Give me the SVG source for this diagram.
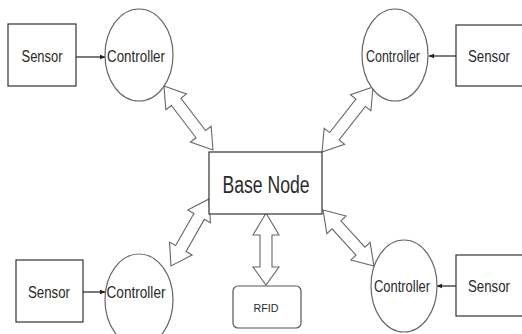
<svg xmlns="http://www.w3.org/2000/svg" width="522" height="334" viewBox="0 0 522 334">
  <style>
    .box { fill: #fff; stroke: #333; stroke-width: 1.2; }
    .oval { fill: #fff; stroke: #666; stroke-width: 1.2; }
    .lbl { font-family: "Liberation Sans", Arial, sans-serif; fill: #2a2a2a; text-anchor: middle; }
    .link { stroke: #222; stroke-width: 1.2; fill: none; }
    .dbl { fill: #fff; stroke: #666; stroke-width: 1.1; stroke-linejoin: miter; }
  </style>
  <defs>
    <marker id="tip" viewBox="0 0 10 10" refX="9" refY="5" markerWidth="6" markerHeight="6" markerUnits="userSpaceOnUse" orient="auto">
      <path d="M0,1 L10,5 L0,9 Z" fill="#222"/>
    </marker>
  </defs>
  <rect width="522" height="334" fill="#fff"/>

  <!-- connectors -->
  <g id="connectors">
    <line class="link" x1="76" y1="57" x2="105" y2="57" marker-end="url(#tip)"/>
    <line class="link" x1="456" y1="56" x2="429" y2="56" marker-end="url(#tip)"/>
    <line class="link" x1="83" y1="292" x2="105" y2="292" marker-end="url(#tip)"/>
    <line class="link" x1="456" y1="286" x2="437" y2="286" marker-end="url(#tip)"/>
    <!-- hollow double-headed arrows: local x runs from tip to tip -->
    <path class="dbl" transform="translate(164,86) rotate(52.6)" d="M0,0 L20,-13 L20,-6 L60.6,-6 L60.6,-13 L80.6,0 L60.6,13 L60.6,6 L20,6 L20,13 Z"/>
    <path class="dbl" transform="translate(373,87) rotate(128.1)" d="M0,0 L20,-13 L20,-6 L62.6,-6 L62.6,-13 L82.6,0 L62.6,13 L62.6,6 L20,6 L20,13 Z"/>
    <path class="dbl" transform="translate(209,199) rotate(119.6)" d="M0,0 L20,-13 L20,-6 L57,-6 L57,-13 L77,0 L57,13 L57,6 L20,6 L20,13 Z"/>
    <path class="dbl" transform="translate(323,210) rotate(47.7)" d="M0,0 L20,-13 L20,-6 L55.7,-6 L55.7,-13 L75.7,0 L55.7,13 L55.7,6 L20,6 L20,13 Z"/>
    <path class="dbl" transform="translate(266,213) rotate(90)" d="M0,0 L22,-13 L22,-6 L54,-6 L54,-13 L72,0 L54,13 L54,6 L22,6 L22,13 Z"/>
  </g>

  <g id="sensor-tl">
    <rect class="box" x="8" y="24" width="68" height="62"/>
    <text class="lbl" x="42" y="62" font-size="16" textLength="41" lengthAdjust="spacingAndGlyphs">Sensor</text>
  </g>
  <g id="controller-tl">
    <ellipse class="oval" cx="139" cy="55" rx="34" ry="46"/>
    <text class="lbl" x="136" y="62" font-size="16.5" textLength="58" lengthAdjust="spacingAndGlyphs">Controller</text>
  </g>

  <g id="sensor-tr">
    <rect class="box" x="456" y="25" width="72" height="61"/>
    <text class="lbl" x="489" y="62" font-size="16" textLength="42" lengthAdjust="spacingAndGlyphs">Sensor</text>
  </g>
  <g id="controller-tr">
    <ellipse class="oval" cx="395" cy="55" rx="33" ry="46"/>
    <text class="lbl" x="393" y="62" font-size="16.5" textLength="54" lengthAdjust="spacingAndGlyphs">Controller</text>
  </g>

  <g id="sensor-bl">
    <rect class="box" x="16" y="260" width="67" height="62"/>
    <text class="lbl" x="49" y="298" font-size="16" textLength="42" lengthAdjust="spacingAndGlyphs">Sensor</text>
  </g>
  <g id="controller-bl">
    <ellipse class="oval" cx="139" cy="300" rx="34" ry="46"/>
    <text class="lbl" x="136" y="298" font-size="16.5" textLength="59" lengthAdjust="spacingAndGlyphs">Controller</text>
  </g>

  <g id="sensor-br">
    <rect class="box" x="456" y="255" width="72" height="61"/>
    <text class="lbl" x="489" y="292" font-size="16" textLength="42" lengthAdjust="spacingAndGlyphs">Sensor</text>
  </g>
  <g id="controller-br">
    <ellipse class="oval" cx="404" cy="286" rx="33" ry="46"/>
    <text class="lbl" x="402" y="292" font-size="16.5" textLength="56" lengthAdjust="spacingAndGlyphs">Controller</text>
  </g>

  <g id="base-node">
    <rect class="box" x="209" y="152" width="113" height="62"/>
    <text class="lbl" x="266" y="193" font-size="23" textLength="87" lengthAdjust="spacingAndGlyphs">Base Node</text>
  </g>

  <g id="rfid">
    <rect class="box" x="233" y="286" width="68" height="42" rx="5" style="stroke:#555"/>
    <text class="lbl" x="266" y="312" font-size="11.5" textLength="25" lengthAdjust="spacingAndGlyphs">RFID</text>
  </g>
</svg>
